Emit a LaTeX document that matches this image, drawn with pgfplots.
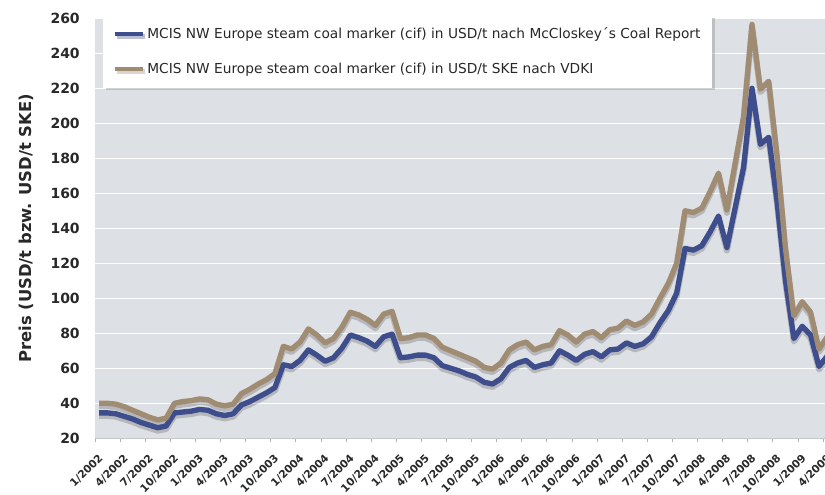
\documentclass[border=0pt]{standalone}
\usepackage{fontspec}
\setmainfont{DejaVu Sans}
\usepackage{pgfplots}
\pgfplotsset{compat=1.18}
\usepackage{pgfplotstable}
\usetikzlibrary{shadows}
\definecolor{plotbg}{RGB}{221,224,229}
\definecolor{cblue}{RGB}{62,77,140}
\definecolor{ctan}{RGB}{160,140,114}
\definecolor{txt}{RGB}{40,40,40}

\pgfplotstableread{
k blue tan
0 34.5 40.0
1 34.5 40.0
2 34.0 39.5
3 32.5 38.0
4 31.0 36.0
5 29.0 34.0
6 27.5 32.0
7 26.0 30.5
8 27.0 31.5
9 34.5 40.0
10 35.0 41.0
11 35.5 41.5
12 36.5 42.5
13 36.0 42.0
14 34.0 39.5
15 33.0 38.5
16 34.0 39.5
17 39.0 45.5
18 41.0 48.0
19 43.5 51.0
20 46.0 53.5
21 49.0 57.0
22 62.0 72.5
23 61.0 71.0
24 64.5 75.0
25 70.5 82.5
26 67.5 79.0
27 64.0 74.5
28 66.0 77.0
29 71.5 83.5
30 79.0 92.0
31 77.5 90.5
32 75.5 88.0
33 72.5 84.5
34 78.0 91.0
35 79.5 92.5
36 66.0 77.0
37 66.5 77.5
38 67.5 79.0
39 67.5 79.0
40 66.0 77.0
41 61.5 72.0
42 60.0 70.0
43 58.5 68.0
44 56.5 66.0
45 55.0 64.0
46 52.0 60.5
47 51.0 59.5
48 54.0 63.0
49 60.5 70.5
50 63.0 73.5
51 64.5 75.0
52 60.5 70.5
53 62.0 72.5
54 63.0 73.5
55 70.0 81.5
56 67.5 79.0
57 64.5 75.0
58 68.0 79.5
59 69.5 81.0
60 66.5 77.5
61 70.5 82.0
62 71.0 83.0
63 74.5 87.0
64 72.5 84.5
65 74.0 86.5
66 78.0 91.0
67 86.0 100.0
68 93.0 108.5
69 103.0 120.0
70 128.5 150.0
71 127.5 149.0
72 130.0 151.5
73 138.0 161.0
74 147.0 171.5
75 129.0 150.5
76 152.0 177.5
77 175.0 204.0
78 220.0 256.5
79 188.0 219.5
80 192.0 224.0
81 155.0 181.0
82 110.0 128.5
83 77.0 90.0
84 84.0 98.0
85 79.0 92.0
86 61.0 71.0
87 67.0 78.0
}\coal

\begin{document}
\begin{tikzpicture}
\begin{axis}[
  at={(0,0)}, anchor=south west,
  scale only axis, width=552.4pt, height=315pt,
  xmin=-0.5, xmax=87.5, ymin=20, ymax=260,
  ytick={20,40,...,260},
  xtick={0,3,...,87},
  xticklabels={1/2002,4/2002,7/2002,10/2002,1/2003,4/2003,7/2003,10/2003,1/2004,4/2004,7/2004,10/2004,1/2005,4/2005,7/2005,10/2005,1/2006,4/2006,7/2006,10/2006,1/2007,4/2007,7/2007,10/2007,1/2008,4/2008,7/2008,10/2008,1/2009,4/2009},
  minor xtick={-0.5,2.5,...,86.5},
  major tick length=0pt,
  minor tick length=3pt,
  tick align=outside,
  minor x tick style={draw=gray!60, line width=0.7pt},
  major tick style={draw=none},
  ymajorgrids,
  major grid style={draw=white, line width=1.1pt},
  axis background/.style={fill=plotbg},
  axis x line*=bottom, axis y line*=left,
  x axis line style={draw=gray!45, line width=1pt, -},
  y axis line style={draw=none, -},
  /pgf/number format/assume math mode=true,
  yticklabel style={font=\bfseries\fontsize{10.5}{12}\selectfont, text=txt, anchor=east, inner sep=0pt, xshift=-11.25pt},
  xticklabel style={font=\bfseries\fontsize{8}{9.5}\selectfont, text=txt, inner sep=0pt, xshift=-1pt, yshift=-11pt, rotate=45, anchor=north east},
  legend style={at={(0.011,1.008)}, anchor=north west, fill=white, draw=none,
    drop shadow={shadow xshift=1.8pt, shadow yshift=-1.8pt, opacity=0.35},
    font=\fontsize{10.3}{12}\selectfont, text=txt,
    inner xsep=7pt, inner ysep=7.5pt, row sep=12.5pt},
  legend cell align=left,
  legend image code/.code={\draw[#1, line width=3pt] (0pt,0pt) -- (21pt,0pt);},
]
\addplot[draw=black, opacity=0.18, line width=4.5pt, line join=round, yshift=-2.2pt, forget plot] table[x=k, y=blue] {\coal};
\addplot[draw=black, opacity=0.18, line width=4.5pt, line join=round, yshift=-2.2pt, forget plot] table[x=k, y=tan] {\coal};
\addplot[draw=cblue, line width=4pt, line join=round, mark=none] table[x=k, y=blue] {\coal};
\addlegendentry{MCIS NW Europe steam coal marker (cif) in USD/t nach McCloskey´s Coal Report}
\addplot[draw=ctan, line width=4pt, line join=round, mark=none] table[x=k, y=tan] {\coal};
\addlegendentry{MCIS NW Europe steam coal marker (cif) in USD/t SKE nach VDKI}
\end{axis}
\node[rotate=90, font=\bfseries\fontsize{12.3}{14}\selectfont, text=txt] at (-51.75pt,157.5pt) {Preis (USD/t bzw. USD/t SKE)};
\pgfresetboundingbox
\path[use as bounding box] (-71.25pt,-41.8pt) rectangle (547.5pt,328.7pt);
\end{tikzpicture}
\end{document}
